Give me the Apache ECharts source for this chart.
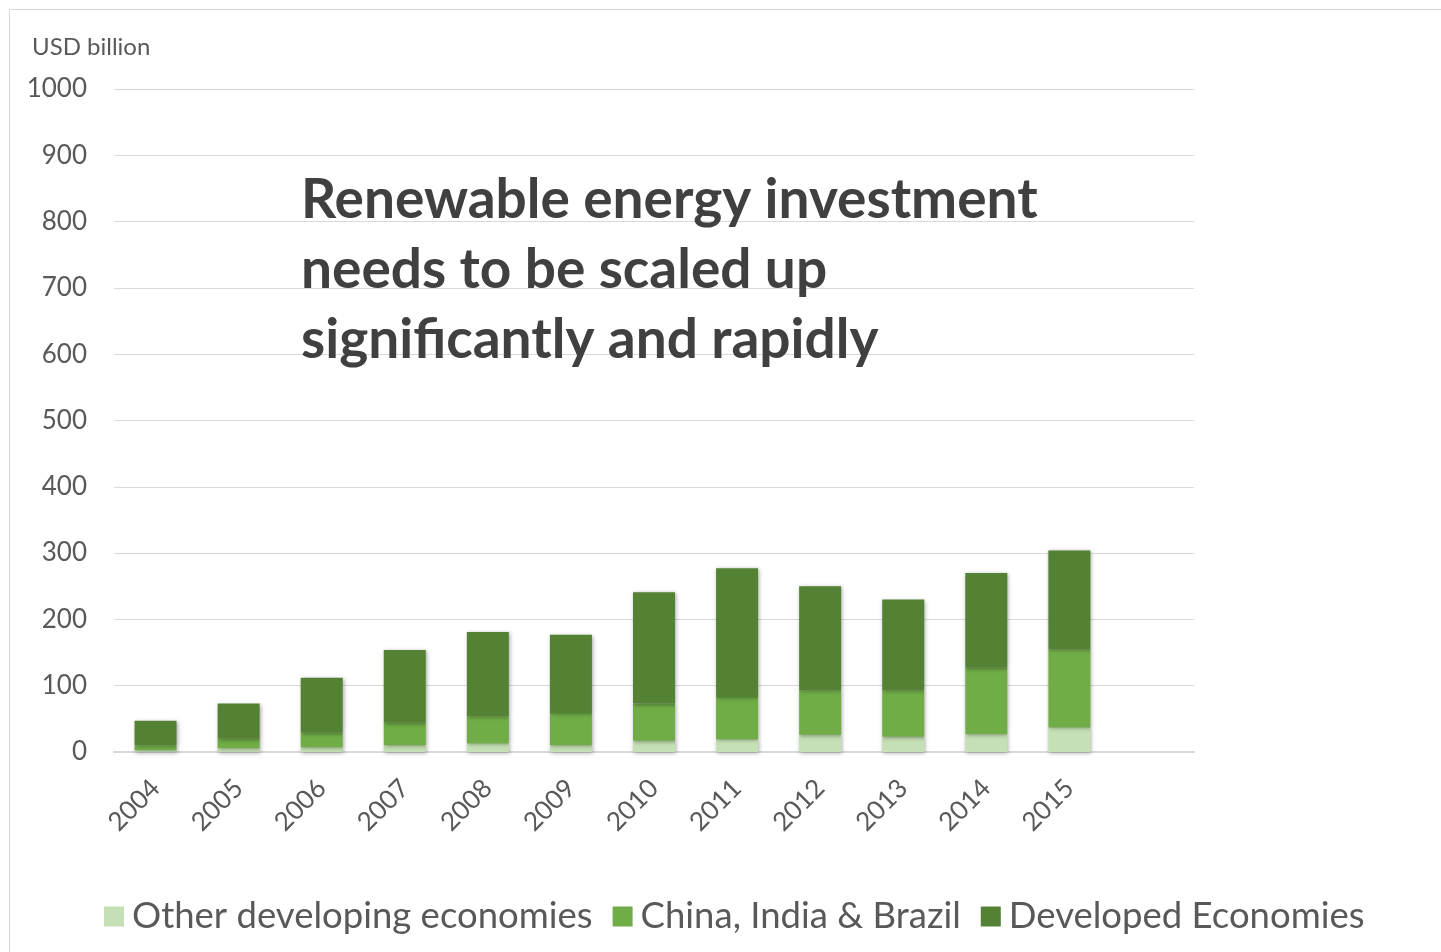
<!DOCTYPE html>
<html>
<head>
<meta charset="utf-8">
<script src="https://cdn.jsdelivr.net/npm/echarts@6/dist/echarts.min.js"></script>
<style>
html,body{margin:0;padding:0;background:#fff;overflow:hidden;}
#chart{position:absolute;left:0;top:0;width:1441px;height:952px;}
#frame{position:absolute;left:9px;top:9px;width:1500px;height:1000px;border-left:1px solid #d9d9d9;border-top:1px solid #d9d9d9;pointer-events:none;}
</style>
</head>
<body>
<div id="chart"></div>
<div id="frame"></div>
<script>
const years = ['2004','2005','2006','2007','2008','2009','2010','2011','2012','2013','2014','2015'];
const otherDeveloping = [3, 6, 7, 10, 13, 10, 17, 19, 26, 23, 27, 37];
const chinaIndiaBrazil = [7, 14, 22, 34, 41, 49, 56, 64, 67, 70, 100, 118];
const developed = [37, 53, 83, 110, 127, 118, 168, 194, 157, 137, 143, 149];
const yTicks = {min: 0, max: 1000, interval: 100};
const titleLines = ['Renewable energy investment', 'needs to be scaled up', 'significantly and rapidly'];

const font = 'Lato, "Open Sans", sans-serif';
const shadow = {shadowBlur: 4, shadowColor: 'rgba(0,0,0,0.35)', shadowOffsetX: 1, shadowOffsetY: 1};
function mk(name, data, color) {
  return {name, type: 'bar', stack: 'total', data, barWidth: 42,
    itemStyle: Object.assign({color}, shadow)};
}
const chart = echarts.init(document.getElementById('chart'));
chart.setOption({
  animation: false,
  textStyle: {fontFamily: font},
  title: {
    text: titleLines.join('\n'), left: 296, top: 160,
    textStyle: {fontFamily: font, fontWeight: 'bold', fontSize: 55, lineHeight: 70, color: '#404040'}
  },
  grid: {left: 114, right: 247, top: 89, bottom: 200},
  legend: {
    left: 99, top: 893, itemWidth: 20, itemHeight: 20, itemGap: 20, icon: 'rect',
    textStyle: {fontFamily: font, fontSize: 36.5, color: '#595959', padding: [0, 0, 0, 3]},
    data: ['Other developing economies', 'China, India & Brazil', 'Developed Economies']
  },
  xAxis: {
    type: 'category', data: years, max: 12,
    axisLine: {lineStyle: {color: '#d9d9d9', width: 2}},
    axisTick: {show: false},
    axisLabel: {rotate: 45, fontSize: 26, color: '#595959', margin: 32, fontFamily: font}
  },
  yAxis: {
    type: 'value', min: yTicks.min, max: yTicks.max, interval: yTicks.interval,
    name: 'USD billion', nameLocation: 'end', nameGap: 30,
    nameTextStyle: {fontSize: 24, color: '#595959', align: 'left', padding: [0, 0, 0, -82], fontFamily: font},
    axisLine: {show: false}, axisTick: {show: false},
    axisLabel: {fontSize: 26, color: '#595959', margin: 27, fontFamily: font, formatter: v => String(v)},
    splitLine: {lineStyle: {color: '#d9d9d9', width: 1}}
  },
  series: [
    mk('Other developing economies', otherDeveloping, '#c5e0b4'),
    mk('China, India & Brazil', chinaIndiaBrazil, '#70ad47'),
    mk('Developed Economies', developed, '#548235')
  ]
});
</script>
</body>
</html>
